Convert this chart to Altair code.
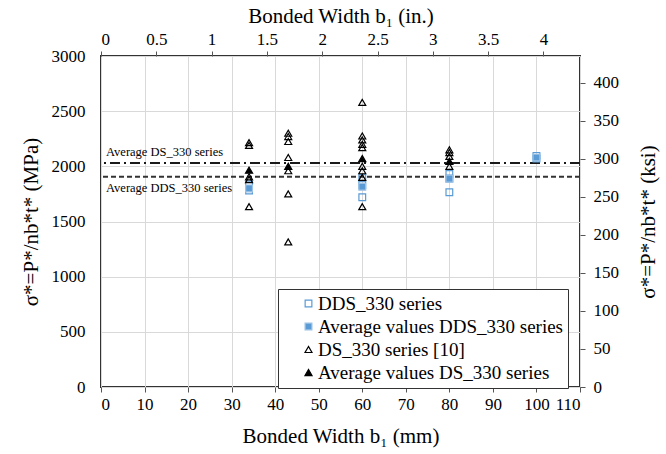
import altair as alt
import pandas as pd

FONT = "Liberation Serif"

# ---- data ----
series_names = ["DDS_330 series", "Average values DDS_330 series",
                "DS_330 series [10]", "Average values DS_330 series"]

dds_w = [34, 34, 60, 60, 60, 80, 80, 80, 100, 100]
dds_s = [1835, 1780, 1895, 1830, 1720, 1930, 1890, 1765, 2095, 2070]

dds_avg_w = [34, 60, 80, 100]
dds_avg_s = [1800, 1815, 1888, 2080]

ds_w = [34, 34, 34, 34, 34,
        43, 43, 43, 43, 43, 43, 43,
        60, 60, 60, 60, 60, 60, 60, 60, 60,
        80, 80, 80, 80]
ds_s = [2215, 2190, 1905, 1880, 1635,
        2300, 2270, 2225, 2080, 1960, 1750, 1315,
        2580, 2275, 2240, 2200, 2170, 2000, 1960, 1900, 1635,
        2150, 2125, 2090, 2000]

ds_avg_w = [34, 43, 60, 80]
ds_avg_s = [1965, 2000, 2070, 2045]

avg_line_names = ["Average DS_330 series", "Average DDS_330 series"]
avg_line_vals = [2030, 1905]

x_ticks_mm = list(range(0, 111, 10))
y_ticks_mpa = list(range(0, 3001, 500))
x_ticks_in = [0, 0.5, 1, 1.5, 2, 2.5, 3, 3.5, 4]
y_ticks_ksi = list(range(0, 401, 50))

# ---- tables ----
rows = []
for ser, ws, ss in [(series_names[0], dds_w, dds_s),
                    (series_names[1], dds_avg_w, dds_avg_s),
                    (series_names[2], ds_w, ds_s),
                    (series_names[3], ds_avg_w, ds_avg_s)]:
    for w, s in zip(ws, ss):
        rows.append({"width": w, "stress": s, "series": ser,
                     "ord": series_names.index(ser)})
df = pd.DataFrame(rows)
lines_df = pd.DataFrame({"name": avg_line_names, "val": avg_line_vals})

leg = alt.Legend(
    title=None, orient="none", legendX=177, legendY=233,
    labelFont=FONT, labelFontSize=19, labelColor="black", labelLimit=500,
    strokeColor="#333333", fillColor="white", padding=5,
    symbolOffset=16, rowPadding=3, labelOffset=0,
    symbolStrokeWidth=1.2,
)

TITLE_SIZE = 21

x_main = alt.X("width:Q",
               scale=alt.Scale(domain=[0, 110], nice=False, zero=True),
               axis=alt.Axis(values=x_ticks_mm, title="Bonded Width b₁ (mm)",
                             format="d",
                             grid=True, gridColor="#d9d9d9", domain=False,
                             tickSize=5, tickColor="#555555",
                             labelFont=FONT, labelFontSize=17, labelColor="black",
                             labelPadding=4, titleFont=FONT, titleFontSize=TITLE_SIZE,
                             titleFontWeight="normal", titleColor="black",
                             titlePadding=13))
y_main = alt.Y("stress:Q",
               scale=alt.Scale(domain=[0, 3000], nice=False),
               axis=alt.Axis(values=y_ticks_mpa, title="σ*=P*/nb*t* (MPa)",
                             format="d",
                             grid=True, gridColor="#d9d9d9", domain=False,
                             ticks=False, labelPadding=16,
                             labelFont=FONT, labelFontSize=17, labelColor="black",
                             titleFont=FONT, titleFontSize=TITLE_SIZE,
                             titleFontWeight="normal", titleColor="black",
                             titlePadding=10))

points = alt.Chart(df).mark_point(opacity=1, strokeWidth=1.2).encode(
    x=x_main,
    y=y_main,
    shape=alt.Shape("series:N", scale=alt.Scale(
        domain=series_names,
        range=["square", "square", "triangle-up", "triangle-up"]), legend=leg),
    fill=alt.Fill("series:N", scale=alt.Scale(
        domain=series_names,
        range=["transparent", "#5b9bd5", "transparent", "black"]), legend=leg),
    stroke=alt.Stroke("series:N", scale=alt.Scale(
        domain=series_names,
        range=["#5b9bd5", "#9dc3e6", "black", "black"]), legend=leg),
    size=alt.Size("series:N", scale=alt.Scale(
        domain=series_names, range=[45, 50, 45, 110]), legend=leg),
    order=alt.Order("ord:Q"),
)

rule_ds = alt.Chart(lines_df).transform_filter(
    alt.datum.name == avg_line_names[0]
).mark_rule(strokeWidth=2, color="#1a1a1a", strokeDash=[10, 4, 2, 4]).encode(
    y="val:Q")
rule_dds = alt.Chart(lines_df).transform_filter(
    alt.datum.name == avg_line_names[1]
).mark_rule(strokeWidth=2, color="#333333", strokeDash=[5, 3]).encode(
    y="val:Q")

txt_ds = alt.Chart(lines_df).transform_filter(
    alt.datum.name == avg_line_names[0]
).mark_text(align="left", baseline="bottom", dx=5, dy=-4,
            font=FONT, fontSize=12.5, color="black").encode(
    x=alt.datum(0), y="val:Q", text="name:N")
txt_dds = alt.Chart(lines_df).transform_filter(
    alt.datum.name == avg_line_names[1]
).mark_text(align="left", baseline="top", dx=5, dy=5,
            font=FONT, fontSize=12.5, color="black").encode(
    x=alt.datum(0), y="val:Q", text="name:N")

main = alt.layer(rule_dds, rule_ds, txt_ds, txt_dds, points)

secondary = alt.Chart(df).transform_calculate(
    w_in="datum.width / 25.4", s_ksi="datum.stress / 6.89476"
).mark_point(opacity=0).encode(
    x=alt.X("w_in:Q",
            scale=alt.Scale(domain=[0, 110 / 25.4], nice=False),
            axis=alt.Axis(orient="top", values=x_ticks_in, format="~g",
                          title="Bonded Width b₁ (in.)", grid=False, domain=False,
                          tickSize=5, tickColor="#555555",
                          labelFont=FONT, labelFontSize=17, labelColor="black",
                          labelPadding=3, titleFont=FONT, titleFontSize=TITLE_SIZE,
                          titleFontWeight="normal", titleColor="black",
                          titlePadding=4)),
    y=alt.Y("s_ksi:Q",
            scale=alt.Scale(domain=[0, 3000 / 6.89476], nice=False),
            axis=alt.Axis(orient="right", values=y_ticks_ksi, format="d",
                          title="σ*=P*/nb*t* (ksi)", titleAngle=270,
                          grid=False, domain=False,
                          tickSize=5, tickColor="#555555",
                          labelFont=FONT, labelFontSize=17, labelColor="black",
                          labelPadding=8, titleFont=FONT, titleFontSize=TITLE_SIZE,
                          titleFontWeight="normal", titleColor="black",
                          titlePadding=40)),
)

chart = alt.layer(main, secondary).resolve_scale(
    x="independent", y="independent"
).properties(
    width=479, height=331,
    autosize=alt.AutoSizeParams(type="none"),
    padding={"left": 101, "top": 56, "right": 86, "bottom": 67},
    background="white",
).configure(font=FONT).configure_view(stroke="#333333", strokeWidth=2)

chart.save("out.html", embed_options={"renderer": "svg", "actions": False})
